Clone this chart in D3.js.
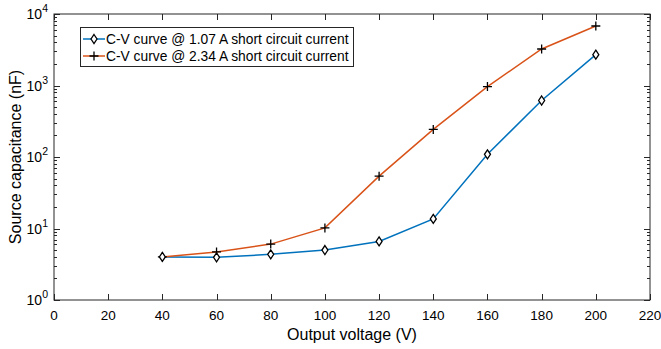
<!DOCTYPE html>
<html>
<head>
<meta charset="utf-8">
<script src="https://cdn.jsdelivr.net/npm/d3@7"></script>
<style>
  body { margin: 0; background: #fff; }
  svg { font-family: "Liberation Sans", Arial, sans-serif; }
</style>
</head>
<body>
<div id="chart"></div>
<script>
// data
const voltages = [40, 60, 80, 100, 120, 140, 160, 180, 200];
const capLow = [4.0, 3.95, 4.35, 5.0, 6.6, 13.6, 109, 617, 2700];   // 1.07 A
const capHigh = [4.0, 4.7, 6.05, 10.2, 54, 243, 966, 3240, 6800];  // 2.34 A
const seriesNames = [
  "C-V curve @ 1.07 A short circuit current",
  "C-V curve @ 2.34 A short circuit current"
];
const xTicks = [0, 20, 40, 60, 80, 100, 120, 140, 160, 180, 200, 220];
const yDecades = [0, 1, 2, 3, 4];

const W = 661, H = 349;
const margin = {top: 14, right: 11, bottom: 49, left: 54};
const width = W - margin.left - margin.right;
const height = H - margin.top - margin.bottom;

const svg = d3.select("#chart").append("svg")
  .attr("width", W).attr("height", H);
const g = svg.append("g")
  .attr("transform", "translate(" + margin.left + "," + margin.top + ")");

const x = d3.scaleLinear().domain([0, 220]).range([0, width]);
const y = d3.scaleLog().domain([1, 10000]).range([height, 0]);

const axisColor = "#262626";
const tickLen = 6, minorLen = 3;

// box
g.append("rect")
  .attr("width", width).attr("height", height)
  .attr("fill", "none").attr("stroke", axisColor).attr("stroke-width", 1);

// x ticks (bottom and top)
xTicks.forEach(t => {
  const px = Math.round(x(t)) + 0.5;
  g.append("line").attr("x1", px).attr("x2", px).attr("y1", height).attr("y2", height - tickLen)
    .attr("stroke", axisColor);
  g.append("line").attr("x1", px).attr("x2", px).attr("y1", 0).attr("y2", tickLen)
    .attr("stroke", axisColor);
  g.append("text").attr("x", x(t)).attr("y", height + 20)
    .attr("text-anchor", "middle").attr("font-size", 13.5).attr("fill", "#000")
    .text(t);
});

// y ticks, major and minor, on both sides
yDecades.forEach(d => {
  const v = Math.pow(10, d);
  const py = Math.round(y(v)) + 0.5;
  [[0, tickLen], [width, width - tickLen]].forEach(([a, b]) => {
    g.append("line").attr("x1", a).attr("x2", b).attr("y1", py).attr("y2", py)
      .attr("stroke", axisColor);
  });
  const lab = g.append("text").attr("x", -6).attr("y", y(v) + 5)
    .attr("text-anchor", "end").attr("font-size", 14).attr("fill", "#000");
  lab.append("tspan").text("10");
  lab.append("tspan").attr("dy", -7).attr("font-size", 10.5).text(d);
  if (d < 4) {
    for (let m = 2; m <= 9; m++) {
      const my = Math.round(y(v * m)) + 0.5;
      [[0, minorLen], [width, width - minorLen]].forEach(([a, b]) => {
        g.append("line").attr("x1", a).attr("x2", b).attr("y1", my).attr("y2", my)
          .attr("stroke", axisColor);
      });
    }
  }
});

// axis labels
g.append("text").attr("x", width / 2).attr("y", height + 40)
  .attr("text-anchor", "middle").attr("font-size", 16).text("Output voltage (V)");
svg.append("text")
  .attr("transform", "translate(21," + (margin.top + height / 2) + ") rotate(-90)")
  .attr("text-anchor", "middle").attr("font-size", 16).text("Source capacitance (nF)");

const colors = ["#0072BD", "#D95319"];
const line = d3.line().x(d => x(d[0])).y(d => y(d[1]));
const lowPts = voltages.map((v, i) => [v, capLow[i]]);
const highPts = voltages.map((v, i) => [v, capHigh[i]]);

function diamond(sel, cx, cy) {
  sel.append("path")
    .attr("d", `M${cx},${cy - 4.5}L${cx + 3},${cy}L${cx},${cy + 4.5}L${cx - 3},${cy}Z`)
    .attr("fill", "#fff").attr("stroke", "#000").attr("stroke-width", 1.3);
}
function plus(sel, cx, cy) {
  sel.append("path")
    .attr("d", `M${cx - 4.5},${cy}H${cx + 4.5}M${cx},${cy - 4.5}V${cy + 4.5}`)
    .attr("stroke", "#000").attr("stroke-width", 1.3);
}

g.append("path").datum(lowPts).attr("d", line)
  .attr("fill", "none").attr("stroke", colors[0]).attr("stroke-width", 1.5);
g.append("path").datum(highPts).attr("d", line)
  .attr("fill", "none").attr("stroke", colors[1]).attr("stroke-width", 1.5);
highPts.forEach(p => plus(g, x(p[0]), y(p[1])));
lowPts.forEach(p => diamond(g, x(p[0]), y(p[1])));

// legend
const leg = svg.append("g").attr("transform", "translate(80,27)");
leg.append("rect").attr("x", 0.5).attr("y", 0.5).attr("width", 273).attr("height", 39)
  .attr("fill", "#fff").attr("stroke", axisColor);
[0, 1].forEach(i => {
  const ly = 12 + i * 17;
  leg.append("line").attr("x1", 3).attr("x2", 25).attr("y1", ly).attr("y2", ly)
    .attr("stroke", colors[i]).attr("stroke-width", 1.5);
  if (i === 0) diamond(leg, 14, ly); else plus(leg, 14, ly);
  leg.append("text").attr("x", 26).attr("y", ly + 5)
    .attr("font-size", 13.8).text(seriesNames[i]);
});
</script>
</body>
</html>
